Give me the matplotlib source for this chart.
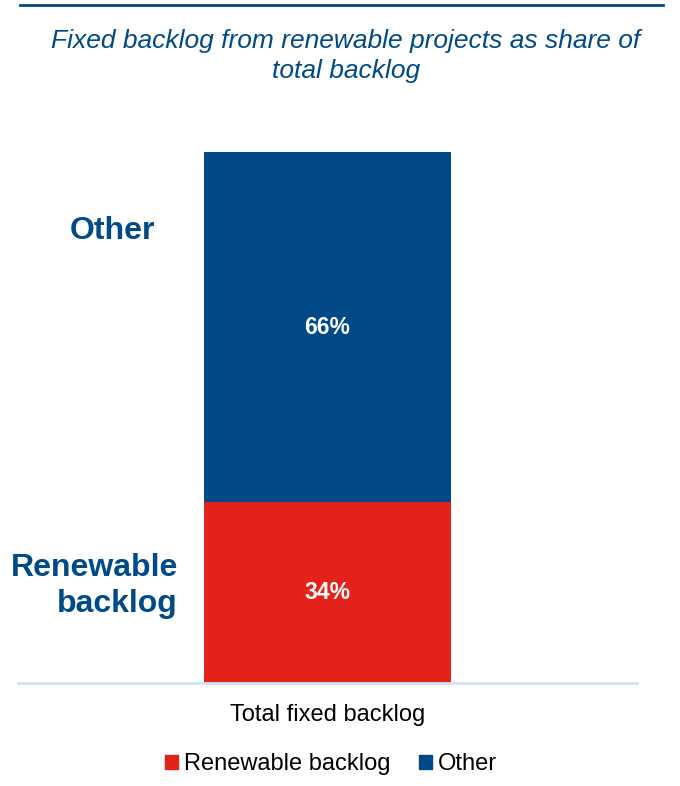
import matplotlib
matplotlib.use("Agg")
import matplotlib.pyplot as plt
from matplotlib.patches import Patch
from matplotlib.lines import Line2D

# du lieu
categories = ["Total fixed backlog"]
series_names = ["Renewable backlog", "Other"]
renewable = [34]
other = [66]

xanh = "#004A87"
do = "#E32219"
plt.rcParams["font.family"] = ["Liberation Sans", "DejaVu Sans"]

W, H = 680, 786
fig = plt.figure(figsize=(W / 100, H / 100), dpi=100)

# vung ve: baseline tai y=683, dinh cot tai y=152
ax = fig.add_axes([18 / W, 1 - 683 / H, 619 / W, (683 - 152) / H])
x = range(len(categories))
ax.bar(x, renewable, width=0.6, color=do)
ax.bar(x, other, width=0.6, bottom=renewable, color=xanh)
for i in x:
    ax.text(i, renewable[i] / 2, f"{renewable[i]}%", ha="center", va="center",
            color="white", fontsize=16.5, fontweight="bold")
    ax.text(i, renewable[i] + other[i] / 2, f"{other[i]}%", ha="center", va="center",
            color="white", fontsize=16.5, fontweight="bold")
ax.set_xlim(-0.75, 0.75)
ax.set_ylim(0, 100)
ax.set_xticks(list(x))
ax.set_xticklabels(categories, fontsize=17)
ax.tick_params(axis="x", length=0, pad=15)
ax.set_yticks([])
for s in ["top", "right", "left"]:
    ax.spines[s].set_visible(False)
ax.spines["bottom"].set_color("#CFE3F5")
ax.spines["bottom"].set_linewidth(2)

# nhan ben trai
fig.text(112 / W, 1 - 231 / H, "Other", ha="center", va="center",
         fontsize=23, fontweight="bold", color=xanh)
fig.text(178 / W, 1 - 586 / H, "Renewable\nbacklog", ha="right", va="center",
         fontsize=23, fontweight="bold", color=xanh, linespacing=1.3)

# tieu de
fig.text(346 / W, 1 - 56 / H, "Fixed backlog from renewable projects as share of\ntotal backlog",
         ha="center", va="center", fontsize=19, style="italic", color=xanh,
         linespacing=1.3)

# duong ke tren cung
fig.add_artist(Line2D([20 / W, 663 / W], [1 - 5 / H, 1 - 5 / H], color=xanh, lw=2))

# chu thich
handles = [Patch(color=do), Patch(color=xanh)]
fig.legend(handles, series_names, loc="center", bbox_to_anchor=(331 / W, 1 - 764 / H),
           ncol=2, frameon=False, fontsize=17, handlelength=0.55, handleheight=0.55,
           handletextpad=0.25, columnspacing=1.2)

fig.savefig("out.png", dpi=100)
